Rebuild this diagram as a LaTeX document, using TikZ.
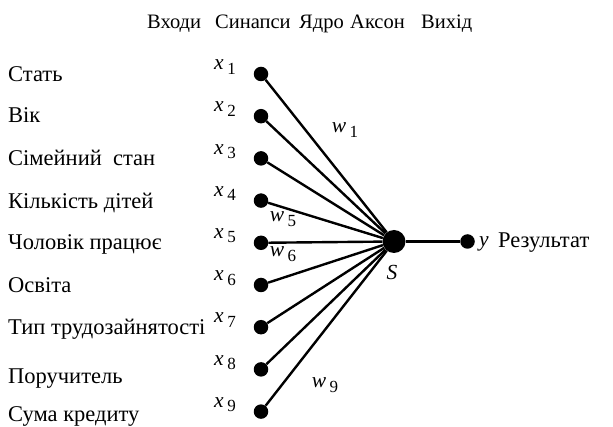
\documentclass[tikz,border=0pt]{standalone}
\usepackage{fontspec}
\setmainfont{Liberation Serif}
\usetikzlibrary{positioning}
% italic symbol with an upright index, e.g. x 1, w 5
\newcommand{\symidx}[2]{\textit{#1}\,\raisebox{-0.45ex}{\fontsize{17}{17}\selectfont #2}}
\tikzset{
  synapse/.style={
    circle,
    fill=black,
    inner sep=0pt,
    minimum size=14.5pt
  },
  soma/.style={
    circle,
    fill=black,
    inner sep=0pt,
    minimum size=23pt
  },
  dendrite/.style={
    draw=black,
    line width=2.4pt
  },
  factor/.style={
    anchor=base west,
    inner sep=0pt,
    font=\fontsize{22.5}{24}\selectfont
  },
  heading/.style={
    anchor=base west,
    inner sep=0pt,
    font=\fontsize{20.5}{22}\selectfont
  },
  weight/.style={
    inner sep=0pt
  }
}

\begin{document}
\begin{tikzpicture}[x=1pt,y=-1pt,font=\fontsize{21.5}{24}\selectfont]
  \useasboundingbox (0,0) rectangle (613,427);
  % column headings
  \node[heading] (hin) at (147,29) {Входи};
  \node[heading] (hsyn) at (215,29) {Синапси};
  \node[heading] (hcore) at (299,29) {Ядро};
  \node[heading] (haxon) at (350,29) {Аксон};
  \node[heading] (hout) at (421,29) {Вихід};
  % summing core and output
  \node[soma] (core) at (394,241.5) {};
  \node[synapse] (out) at (467.5,241.5) {};
  \node[weight] (sum) at (392,272) {\textit{S}};
  \node[weight,anchor=base west] (y) at (479,247) {\textit{y}};
  \node[factor] (result) at (498,248) {Результат};
  \draw[dendrite] (core) -- (out);
  % inputs
  \foreach \lbl/\ly [count=\i] in {Стать/75, Вік/116, Сімейний\ \ стан/159,
      Кількість дітей/202, Чоловік працює/243, Освіта/286,
      Тип трудозайнятості/328, Поручитель/377, Сума кредиту/414}{
    \pgfmathsetmacro\yy{74+42.2*(\i-1)}
    \node[synapse] (in\i) at (261,\yy) {};
    \node[factor] (f\i) at (8,\ly+7) {\lbl};
    \node[weight] (x\i) at (225,\yy-7) {\symidx{x}{\i}};
    \draw[dendrite] (in\i) -- (core);
  }
  % weights
  \node[weight] (w1) at (345,130) {\symidx{w}{1}};
  \node[weight] (w5) at (283,219) {\symidx{w}{5}};
  \node[weight] (w6) at (283,254) {\symidx{w}{6}};
  \node[weight] (w9) at (325,385) {\symidx{w}{9}};
\end{tikzpicture}
\end{document}
